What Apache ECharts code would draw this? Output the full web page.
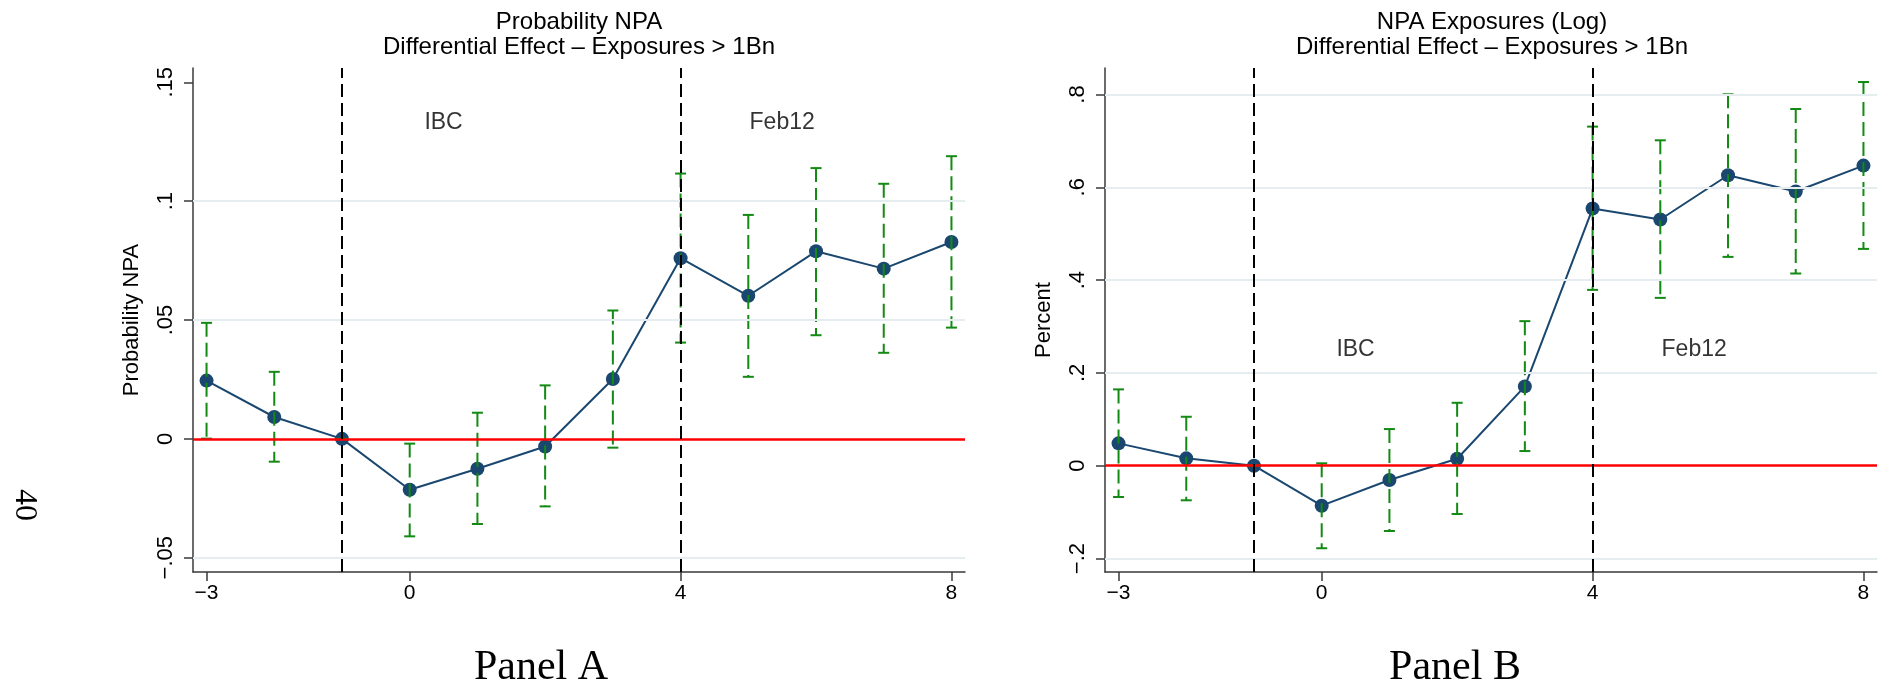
<!DOCTYPE html>
<html>
<head>
<meta charset="utf-8">
<title>Differential Effect – Exposures > 1Bn</title>
<script src="https://cdn.jsdelivr.net/npm/echarts@6/dist/echarts.min.js"></script>
<style>
  html, body { margin: 0; padding: 0; background: #fff; }
  #chart { width: 1878px; height: 680px; }
</style>
</head>
<body>
<div id="chart"></div>
<script>
// event time (years relative to IBC)
const periods = [-3, -2, -1, 0, 1, 2, 3, 4, 5, 6, 7, 8];

// Panel A: probability NPA, point estimate and 95% CI
const probNpa = [0.0245, 0.0092, 0, -0.0214, -0.0126, -0.0032, 0.0252, 0.0760, 0.0602, 0.0789, 0.0716, 0.0828];
const probLo = [0.0001, -0.0096, 0, -0.0410, -0.0358, -0.0284, -0.0037, 0.0405, 0.0261, 0.0436, 0.0362, 0.0468];
const probHi = [0.0488, 0.0282, 0, -0.0020, 0.0110, 0.0225, 0.0540, 0.1116, 0.0942, 0.1139, 0.1073, 0.1189];

// Panel B: NPA exposures (log), point estimate and 95% CI
const expNpa = [0.0482, 0.0159, 0, -0.0861, -0.0308, 0.0151, 0.1709, 0.5541, 0.5305, 0.6259, 0.5908, 0.6467];
const expLo = [-0.0674, -0.0745, 0, -0.1778, -0.1406, -0.1040, 0.0316, 0.3789, 0.3617, 0.4500, 0.4142, 0.4672];
const expHi = [0.1645, 0.1055, 0, 0.0052, 0.0790, 0.1356, 0.3115, 0.7307, 0.7012, 0.8003, 0.7687, 0.8268];

// axes
const xTicks = [-3, 0, 4, 8];
const probTicks = [-0.05, 0, 0.05, 0.1, 0.15];
const expTicks = [-0.2, 0, 0.2, 0.4, 0.6, 0.8];
const probGridLines = [-0.05, 0.05, 0.1];
const expGridLines = [-0.2, 0.2, 0.4, 0.6, 0.8];

// events
const eventLines = [-1, 4];
const eventNames = ['IBC', 'Feb12'];
const eventLabelX = [0.5, 5.5];
const probLabelY = 0.133;
const expLabelY = 0.25;

const NAVY = '#1a476f';
const GREEN = '#138a13';
const SANS = 'Liberation Sans, Arial, Helvetica, sans-serif';
const SERIF = 'Liberation Serif, Times New Roman, serif';

const stataNum = (v) => {
  if (v === 0) return '0';
  const s = String(Math.abs(+v.toFixed(4))).replace(/^0\./, '.');
  return (v < 0 ? '\u2212' : '') + s;
};

const renderErrorBar = (params, api) => {
  const x = api.value(0);
  const lo = api.coord([x, api.value(1)]);
  const hi = api.coord([x, api.value(2)]);
  const half = 5.5;
  const capStyle = { stroke: GREEN, lineWidth: 2 };
  return {
    type: 'group',
    children: [
      { type: 'line', shape: { x1: hi[0], y1: hi[1], x2: lo[0], y2: lo[1] },
        style: { stroke: GREEN, lineWidth: 2, lineDash: [14, 6] } },
      { type: 'line', shape: { x1: hi[0] - half, y1: hi[1], x2: hi[0] + half, y2: hi[1] }, style: capStyle },
      { type: 'line', shape: { x1: lo[0] - half, y1: lo[1], x2: lo[0] + half, y2: lo[1] }, style: capStyle }
    ]
  };
};

const makeXAxis = (gridIndex) => ({
  type: 'value',
  gridIndex,
  min: -3.2,
  max: 8.2,
  axisLine: { onZero: false, lineStyle: { color: '#3a3a3a', width: 1.5 } },
  axisTick: { customValues: xTicks, length: 9, lineStyle: { color: '#3a3a3a', width: 1.5 } },
  axisLabel: {
    customValues: xTicks,
    formatter: (v) => (v < 0 ? '\u2212' + Math.abs(v) : String(v)),
    color: '#000', fontSize: 21, fontFamily: SANS, margin: 11
  },
  splitLine: { show: false }
});

const makeYAxis = (gridIndex, min, max, ticks, name, nameGap) => ({
  type: 'value',
  gridIndex,
  min,
  max,
  name,
  nameLocation: 'middle',
  nameGap,
  nameRotate: 90,
  nameTextStyle: { color: '#000', fontSize: 22, fontFamily: SANS },
  axisLine: { show: true, onZero: false, lineStyle: { color: '#3a3a3a', width: 1.5 } },
  axisTick: { show: true, customValues: ticks, length: 9, lineStyle: { color: '#3a3a3a', width: 1.5 } },
  axisLabel: {
    customValues: ticks,
    rotate: 90,
    formatter: stataNum,
    color: '#000', fontSize: 22, fontFamily: SANS, margin: 16
  },
  splitLine: { show: false }
});

const panelSeries = (idx, est, lo, hi, gridLines, labelY) => [
  {
    type: 'line',
    xAxisIndex: idx, yAxisIndex: idx,
    data: [],
    z: 1,
    markLine: {
      silent: true, symbol: ['none', 'none'], label: { show: false },
      lineStyle: { color: '#e6edf1', width: 2, type: 'solid' },
      data: gridLines.map((v) => ({ yAxis: v }))
    }
  },
  {
    type: 'line',
    xAxisIndex: idx, yAxisIndex: idx,
    data: [],
    z: 2,
    markLine: {
      silent: true, symbol: ['none', 'none'], label: { show: false },
      data: [
        { yAxis: 0, lineStyle: { color: '#ff0000', width: 2.5, type: 'solid' } },
        ...eventLines.map((v) => ({ xAxis: v, lineStyle: { color: '#000', width: 2, type: [13, 6] } }))
      ]
    }
  },
  {
    type: 'line',
    xAxisIndex: idx, yAxisIndex: idx,
    data: periods.map((p, i) => [p, est[i]]),
    z: 3,
    symbol: 'circle',
    symbolSize: 14,
    lineStyle: { color: NAVY, width: 2 },
    itemStyle: { color: NAVY }
  },
  {
    type: 'custom',
    xAxisIndex: idx, yAxisIndex: idx,
    z: 4,
    data: periods.map((p, i) => [p, lo[i], hi[i]]),
    renderItem: renderErrorBar
  },
  {
    type: 'scatter',
    xAxisIndex: idx, yAxisIndex: idx,
    z: 5,
    symbolSize: 0,
    data: eventNames.map((n, i) => ({ name: n, value: [eventLabelX[i], labelY] })),
    label: {
      show: true, position: 'inside', formatter: '{b}',
      color: '#000', fontSize: 23, fontFamily: SANS
    }
  }
];

const titleStyle = { color: '#000', fontSize: 24, fontWeight: 'normal', fontFamily: SANS, lineHeight: 25 };
const panelStyle = { color: '#000', fontSize: 42, fontWeight: 'normal', fontFamily: SERIF, lineHeight: 42 };

const chart = echarts.init(document.getElementById('chart'));
chart.setOption({
  animation: false,
  backgroundColor: '#fff',
  title: [
    { text: 'Probability NPA\nDifferential Effect \u2013 Exposures > 1Bn', left: 579, top: 10, textAlign: 'center', padding: 0, textStyle: titleStyle },
    { text: 'NPA Exposures (Log)\nDifferential Effect \u2013 Exposures > 1Bn', left: 1492, top: 10, textAlign: 'center', padding: 0, textStyle: titleStyle },
    { text: 'Panel A', left: 541, top: 647, textAlign: 'center', padding: 0, textStyle: panelStyle },
    { text: 'Panel B', left: 1455, top: 647, textAlign: 'center', padding: 0, textStyle: panelStyle }
  ],
  graphic: [
    {
      type: 'text', x: 24, y: 505, rotation: -Math.PI / 2,
      style: { text: '40', font: '32px ' + SERIF, fill: '#000', textAlign: 'center', textVerticalAlign: 'middle' }
    }
  ],
  grid: [
    { left: 193, top: 68, width: 772, height: 504 },
    { left: 1105, top: 68, width: 772, height: 504 }
  ],
  xAxis: [makeXAxis(0), makeXAxis(1)],
  yAxis: [
    makeYAxis(0, -0.056, 0.156, probTicks, 'Probability NPA', 50),
    makeYAxis(1, -0.229, 0.857, expTicks, 'Percent', 50)
  ],
  series: [
    ...panelSeries(0, probNpa, probLo, probHi, probGridLines, probLabelY),
    ...panelSeries(1, expNpa, expLo, expHi, expGridLines, expLabelY)
  ]
});
</script>
</body>
</html>
